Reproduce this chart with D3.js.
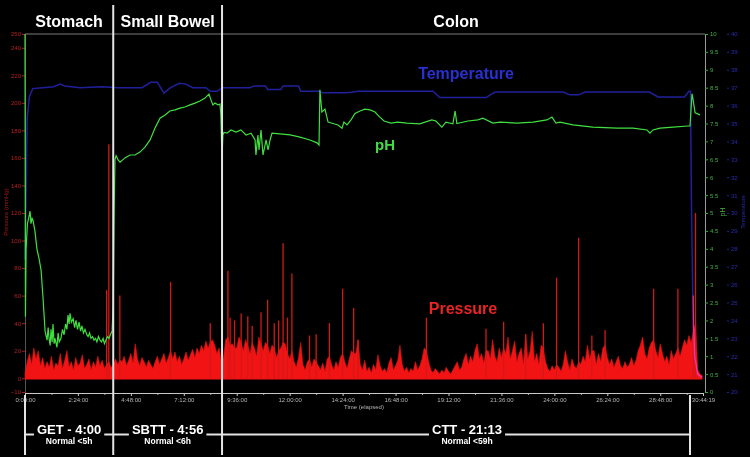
<!DOCTYPE html>
<html>
<head>
<meta charset="utf-8">
<script src="https://cdn.jsdelivr.net/npm/d3@7/dist/d3.min.js"></script>
<style>
  html, body { margin: 0; padding: 0; background: #000; }
  svg { display: block; font-family: 'Liberation Sans', Arial, sans-serif; }
</style>
</head>
<body>
<svg id="chart"></svg>
<script>
// Gut segments and transit times (hours)
const segmentNames = ['Stomach', 'Small Bowel', 'Colon'];
const transitLabels = ['GET - 4:00', 'SBTT - 4:56', 'CTT - 21:13'];
const transitNorms = ['Normal <5h', 'Normal <6h', 'Normal <59h'];
const segmentBounds = [0, 4.0, 8.933, 30.15];

// Time axis (hours)
const timeEnd = 30.7386;
const timeTicks = [0, 2.4, 4.8, 7.2, 9.6, 12, 14.4, 16.8, 19.2, 21.6, 24, 26.4, 28.8, 30.7386];
const timeTickLabels = ['0:00:00', '2:24:00', '4:48:00', '7:12:00', '9:36:00', '12:00:00',
  '14:24:00', '16:48:00', '19:12:00', '21:36:00', '24:00:00', '26:24:00', '28:48:00', '30:44:19'];
const timeMinorTicks = [1.2, 3.6, 6, 8.4, 10.8, 13.2, 15.6, 18, 20.4, 22.8, 25.2, 27.6, 30];

// Y axes tick values
const pressureTicks = [-10, 0, 20, 40, 60, 80, 100, 120, 140, 160, 180, 200, 220, 240, 250];
const phTicks = [0, 0.5, 1, 1.5, 2, 2.5, 3, 3.5, 4, 4.5, 5, 5.5, 6, 6.5, 7, 7.5, 8, 8.5, 9, 9.5, 10];
const tempTicks = [20, 21, 22, 23, 24, 25, 26, 27, 28, 29, 30, 31, 32, 33, 34, 35, 36, 37, 38, 39, 40];

// Pressure background activity (mmHg), one reading every 0.1 h
const pressureStep = 0.1;
const pressure = [
  4, 12, 18, 10, 22, 14, 20, 9, 15, 7, 12, 8, 16, 6, 11, 9, 18, 7, 13, 20,
  8, 12, 6, 15, 9, 11, 17, 7, 10, 14, 6, 12, 8, 16, 9, 13, 7, 10, 12, 8,
  9, 14, 10, 13, 12, 16, 9, 13, 18, 11, 25, 14, 9, 15, 12, 8, 13, 10, 7, 12,
  16, 10, 14, 18, 11, 15, 20, 14, 19, 12, 16, 10, 14, 19, 13, 17, 21, 15, 22, 18,
  24, 20, 27, 22, 26, 28, 24, 18, 22, 12,
  15, 28, 30, 24, 25, 22, 22, 30, 26, 20, 28, 24, 18, 26, 22, 16, 30, 25, 20, 26,
  24, 18, 24, 22, 15, 20, 22, 26, 25, 18, 14, 20, 12, 8, 15, 26, 10, 6, 12, 14,
  8, 14, 12, 9, 6, 11, 5, 14, 16, 10, 6, 12, 8, 15, 18, 12, 7, 14, 20, 18,
  18, 28, 10, 6, 13, 5, 8, 4, 10, 6, 17, 9, 5, 7, 4, 11, 15, 6, 9, 13,
  24, 10, 5, 8, 4, 7, 5, 12, 6, 9, 14, 22, 20, 12, 6, 4, 7, 5, 3, 6,
  4, 8, 5, 3, 6, 9, 12, 6, 8, 14, 18, 10, 16, 12, 20, 25, 14, 18, 11, 20,
  20, 14, 28, 16, 12, 22, 15, 22, 18, 30, 14, 20, 27, 12, 18, 22, 10, 32, 14, 20,
  34, 12, 18, 10, 24, 22, 12, 7, 5, 9, 6, 10, 8, 5, 10, 20, 12, 6, 14, 9,
  7, 12, 10, 16, 12, 24, 14, 20, 20, 10, 18, 12, 22, 24, 15, 10, 14, 8, 12, 16,
  9, 7, 12, 8, 10, 15, 9, 13, 20, 24, 30, 18, 14, 22, 26, 28, 20, 15, 25, 18,
  12, 16, 10, 20, 14, 18, 22, 16, 22, 28, 24, 31, 26, 34, 40, 6, 3, 2
];

// Pressure contraction peaks [hours, mmHg]
const pressureSpikes = [
  [3.7, 64], [3.8, 170], [4.3, 60], [6.6, 70], [8.4, 40],
  [9.2, 78], [9.3, 44], [9.5, 42], [9.8, 47], [10.1, 45], [10.3, 38], [10.7, 48],
  [11.0, 57], [11.3, 40], [11.5, 42], [11.7, 98], [11.9, 44], [12.1, 76], [12.9, 31],
  [13.2, 32], [13.8, 40], [14.4, 65], [14.9, 51], [15.1, 28], [18.2, 44], [20.9, 36],
  [21.7, 41], [22.7, 32], [23.5, 40], [24.1, 73], [25.1, 102], [25.7, 31], [26.3, 35],
  [28.5, 65], [29.6, 65], [30.3, 60], [30.4, 120]
];

// pH readings [hours, pH]
const phReadings = [
  [0, 10], [0.02, 2.1], [0.05, 4.0], [0.11, 4.7], [0.18, 4.9], [0.23, 5.05], [0.27, 4.7],
  [0.32, 4.85], [0.36, 4.8], [0.45, 4.5], [0.54, 4.0], [0.63, 3.75], [0.73, 3.4], [0.82, 2.6],
  [0.91, 1.7], [1.0, 1.45], [1.05, 1.8], [1.09, 1.5], [1.14, 1.3], [1.18, 1.75], [1.23, 1.4],
  [1.27, 1.9], [1.32, 1.35], [1.36, 1.5], [1.45, 1.25], [1.5, 1.65], [1.55, 1.4], [1.63, 1.5],
  [1.7, 1.75], [1.77, 1.6], [1.84, 1.9], [1.9, 1.75], [1.95, 2.15], [2.0, 1.9], [2.04, 2.2],
  [2.1, 1.95], [2.18, 2.05], [2.25, 1.8], [2.31, 2.0], [2.38, 1.75], [2.45, 1.95], [2.52, 1.7],
  [2.58, 1.85], [2.65, 1.65], [2.72, 1.75], [2.8, 1.6], [2.86, 1.55], [2.93, 1.65], [2.99, 1.5],
  [3.06, 1.55], [3.13, 1.45], [3.2, 1.5], [3.26, 1.4], [3.33, 1.55], [3.4, 1.45], [3.47, 1.4],
  [3.54, 1.5], [3.6, 1.35], [3.67, 1.45], [3.74, 1.55], [3.81, 1.5], [3.87, 1.6], [3.95, 1.7],
  [4.0, 2.5], [4.04, 5.0], [4.08, 6.5], [4.13, 6.6], [4.22, 6.48], [4.31, 6.42], [4.53, 6.54],
  [4.76, 6.62], [4.99, 6.62], [5.21, 6.7], [5.44, 6.84], [5.67, 7.04], [5.89, 7.37], [6.12, 7.65],
  [6.35, 7.74], [6.57, 7.85], [6.8, 7.88], [7.03, 7.93], [7.25, 7.96], [7.48, 8.02], [7.71, 8.07],
  [7.93, 8.13], [8.16, 8.21], [8.34, 8.32], [8.43, 8.16], [8.52, 8.02], [8.61, 8.07], [8.75, 8.02],
  [8.84, 8.04], [8.88, 7.74], [8.93, 6.5], [8.97, 7.18], [9.02, 7.25], [9.16, 7.23], [9.34, 7.32],
  [9.57, 7.26], [9.79, 7.32], [10.02, 7.18], [10.25, 7.23], [10.43, 7.04], [10.47, 6.62],
  [10.56, 7.18], [10.61, 6.76], [10.7, 7.32], [10.79, 6.62], [10.93, 7.04], [11.02, 6.76],
  [11.11, 7.04], [11.2, 7.23], [11.56, 7.21], [12.02, 7.18], [12.47, 7.12], [12.92, 7.04],
  [13.24, 6.96], [13.33, 6.9], [13.37, 8.44], [13.46, 7.82], [13.6, 7.9], [13.74, 7.54],
  [13.96, 7.5], [14.19, 7.46], [14.37, 7.37], [14.46, 7.54], [14.6, 7.46], [14.78, 7.6],
  [14.96, 7.78], [15.19, 7.85], [15.41, 7.9], [15.64, 7.88], [15.87, 7.82], [16.05, 7.7],
  [16.28, 7.57], [16.59, 7.51], [16.9, 7.54], [17.32, 7.51], [17.9, 7.49], [18.44, 7.6],
  [18.63, 7.57], [18.9, 7.4], [19.08, 7.54], [19.4, 7.49], [19.5, 7.85], [19.58, 7.5],
  [20.08, 7.57], [20.53, 7.6], [20.76, 7.65], [21.21, 7.51], [21.53, 7.54], [22.3, 7.51],
  [23.03, 7.54], [23.66, 7.6], [23.89, 7.68], [24.07, 7.51], [24.25, 7.54], [24.84, 7.46],
  [25.75, 7.4], [26.84, 7.37], [27.57, 7.37], [28.2, 7.32], [28.33, 7.23], [28.47, 7.32],
  [28.79, 7.37], [29.38, 7.4], [30.06, 7.43], [30.15, 7.43], [30.24, 8.33], [30.28, 8.2],
  [30.38, 7.8], [30.6, 7.74]
];

// Temperature readings [hours, degC]
const tempReadings = [
  [0, 27.4], [0.05, 31], [0.1, 35.3], [0.2, 36.5], [0.35, 36.95], [0.8, 37.0], [1.3, 37.05],
  [1.6, 37.2], [1.8, 37.1], [2.5, 37.0], [3.5, 37.05], [4.2, 37.0], [5.3, 37.0], [5.7, 37.3],
  [6.0, 37.3], [6.3, 36.7], [6.6, 37.0], [7.0, 37.25], [7.3, 37.2], [7.6, 37.0], [8.2, 37.0],
  [8.4, 36.8], [8.7, 36.8], [8.95, 37.0], [9.4, 37.0], [10.2, 37.0], [10.4, 37.1], [10.9, 37.1],
  [11.0, 36.9], [11.6, 36.9], [11.7, 37.1], [12.4, 37.1], [12.5, 36.8], [13.3, 36.8],
  [13.5, 36.72], [14.5, 36.72], [14.8, 36.75], [15.1, 36.8], [16.5, 36.8], [18.5, 36.8],
  [18.8, 36.45], [20.9, 36.45], [21.3, 36.76], [24.4, 36.76], [24.7, 36.6], [25.1, 36.6],
  [25.4, 36.76], [28.3, 36.76], [28.7, 36.48], [29.9, 36.48], [30.1, 36.8], [30.17, 36.8],
  [30.22, 30], [30.28, 25], [30.36, 22], [30.5, 21], [30.7, 20.8]
];

const width = 750,
      height = 457;

const svg = d3.select('#chart')
  .attr('width', width)
  .attr('height', height);

svg.append('rect')
  .attr('width', width)
  .attr('height', height)
  .attr('fill', '#000');

// Scales
const x = d3.scaleLinear().domain([0, timeEnd]).range([25, 703]);
const yPressure = d3.scaleLinear().domain([-10, 250]).range([392, 34]);
const yPh = d3.scaleLinear().domain([0, 10]).range([392, 34]);
const yTemp = d3.scaleLinear().domain([20, 40]).range([392, 34]);

// Top frame line
svg.append('line')
  .attr('x1', x(0)).attr('x2', 705)
  .attr('y1', 34).attr('y2', 34)
  .attr('stroke', '#7a7a7a')
  .attr('stroke-width', 1);

// Left axis - pressure
const leftAxis = svg.append('g')
  .attr('transform', `translate(${x(0)},0)`)
  .call(d3.axisLeft(yPressure).tickValues(pressureTicks).tickSize(3).tickPadding(1));
leftAxis.select('.domain').attr('stroke', '#555');
leftAxis.selectAll('.tick line').attr('stroke', '#b01c1c');
leftAxis.selectAll('.tick text')
  .attr('fill', '#b82020')
  .style('font-size', '6px');

// Right axis - pH
const phAxis = svg.append('g')
  .attr('transform', 'translate(705,0)')
  .call(d3.axisRight(yPh).tickValues(phTicks).tickSize(3).tickPadding(2).tickFormat(d => String(d)));
phAxis.select('.domain').attr('stroke', '#9a9a9a');
phAxis.selectAll('.tick line').attr('stroke', '#3aa83a');
phAxis.selectAll('.tick text')
  .attr('fill', '#43b043')
  .style('font-size', '6px');

// Right axis - temperature
const tempAxis = svg.append('g')
  .attr('transform', 'translate(727,0)')
  .call(d3.axisRight(yTemp).tickValues(tempTicks).tickSize(2).tickPadding(2));
tempAxis.select('.domain').remove();
tempAxis.selectAll('.tick line').attr('stroke', '#20208a');
tempAxis.selectAll('.tick text')
  .attr('fill', '#2a2ab0')
  .style('font-size', '6px');

// Bottom axis - elapsed time
const xMinor = svg.append('g')
  .attr('transform', 'translate(0,393)')
  .call(d3.axisBottom(x).tickValues(timeMinorTicks).tickSize(2).tickFormat(''));
xMinor.select('.domain').remove();
xMinor.selectAll('.tick line').attr('stroke', '#aaa');

const xAxis = svg.append('g')
  .attr('transform', 'translate(0,393)')
  .call(d3.axisBottom(x).tickValues(timeTicks).tickSize(3).tickPadding(2)
    .tickFormat((d, i) => timeTickLabels[i]));
xAxis.select('.domain').attr('stroke', '#c8c8c8');
xAxis.selectAll('.tick line').attr('stroke', '#c8c8c8');
xAxis.selectAll('.tick text')
  .attr('fill', '#b4b4b4')
  .style('font-size', '6px');

// Axis titles
svg.append('text')
  .attr('transform', 'translate(8,212) rotate(-90)')
  .attr('text-anchor', 'middle')
  .attr('fill', '#a01818')
  .style('font-size', '6px')
  .text('Pressure (mmHg)');

svg.append('text')
  .attr('transform', 'translate(725,212) rotate(-90)')
  .attr('text-anchor', 'middle')
  .attr('fill', '#43b043')
  .style('font-size', '7px')
  .text('pH');

svg.append('text')
  .attr('transform', 'translate(745,212) rotate(-90)')
  .attr('text-anchor', 'middle')
  .attr('fill', '#2a2ab0')
  .style('font-size', '6px')
  .text('Temperature');

svg.append('text')
  .attr('x', 364)
  .attr('y', 409)
  .attr('text-anchor', 'middle')
  .attr('fill', '#b4b4b4')
  .style('font-size', '6px')
  .text('Time (elapsed)');

// Pressure trace - background activity
const pressureArea = d3.area()
  .x((d, i) => x(i * pressureStep))
  .y0(yPressure(0) + 1)
  .y1(d => yPressure(d));

svg.append('path')
  .datum(pressure)
  .attr('d', pressureArea)
  .attr('fill', '#f21414')
  .attr('stroke', '#e01010')
  .attr('stroke-width', 0.6);

// Pressure trace - contraction peaks
svg.append('g')
  .selectAll('line')
  .data(pressureSpikes)
  .join('line')
    .attr('x1', d => x(d[0])).attr('x2', d => x(d[0]))
    .attr('y1', yPressure(0)).attr('y2', d => yPressure(d[1]))
    .attr('stroke', '#d41818')
    .attr('stroke-width', 1.3);

// Temperature trace
svg.append('path')
  .datum(tempReadings)
  .attr('d', d3.line().x(d => x(d[0])).y(d => yTemp(d[1])))
  .attr('fill', 'none')
  .attr('stroke', '#20209c')
  .attr('stroke-width', 1.5)
  .style('mix-blend-mode', 'screen');

// pH trace
svg.append('path')
  .datum(phReadings)
  .attr('d', d3.line().x(d => x(d[0])).y(d => yPh(d[1])))
  .attr('fill', 'none')
  .attr('stroke', '#3fe03f')
  .attr('stroke-width', 1.2);

// Trace labels
svg.append('text')
  .attr('x', 466).attr('y', 79)
  .attr('text-anchor', 'middle')
  .attr('fill', '#2a30d0')
  .style('font-size', '16px')
  .style('font-weight', 'bold')
  .text('Temperature');

svg.append('text')
  .attr('x', 385).attr('y', 150)
  .attr('text-anchor', 'middle')
  .attr('fill', '#44dc44')
  .style('font-size', '15px')
  .style('font-weight', 'bold')
  .text('pH');

svg.append('text')
  .attr('x', 463).attr('y', 314)
  .attr('text-anchor', 'middle')
  .attr('fill', '#e82424')
  .style('font-size', '16px')
  .style('font-weight', 'bold')
  .text('Pressure');

// Segment dividers
svg.append('g')
  .selectAll('line')
  .data(segmentBounds.slice(1, 3))
  .join('line')
    .attr('x1', d => x(d)).attr('x2', d => x(d))
    .attr('y1', 5).attr('y2', 455)
    .attr('stroke', '#e4e4e4')
    .attr('stroke-width', 2);

// Segment headers
svg.append('g')
  .selectAll('text')
  .data(segmentNames)
  .join('text')
    .attr('x', (d, i) => (x(segmentBounds[i]) + x(segmentBounds[i + 1])) / 2)
    .attr('y', 27)
    .attr('text-anchor', 'middle')
    .attr('fill', '#fff')
    .style('font-size', '16px')
    .style('font-weight', 'bold')
    .text(d => d);

// Transit time bracket
const bracket = svg.append('g');

bracket.selectAll('line.end')
  .data([segmentBounds[0], segmentBounds[3]])
  .join('line')
    .attr('class', 'end')
    .attr('x1', d => x(d)).attr('x2', d => x(d))
    .attr('y1', 395).attr('y2', 455)
    .attr('stroke', '#e4e4e4')
    .attr('stroke-width', 2);

bracket.append('line')
  .attr('x1', x(segmentBounds[0])).attr('x2', x(segmentBounds[3]))
  .attr('y1', 434.5).attr('y2', 434.5)
  .attr('stroke', '#e4e4e4')
  .attr('stroke-width', 2);

const labelShift = [0, 0, 11];
const transit = bracket.selectAll('g.transit')
  .data(transitLabels)
  .join('g')
    .attr('class', 'transit')
    .attr('transform', (d, i) =>
      `translate(${(x(segmentBounds[i]) + x(segmentBounds[i + 1])) / 2 + labelShift[i]},0)`);

transit.append('rect')
  .attr('y', 420)
  .attr('height', 18)
  .attr('fill', '#000');

transit.append('text')
  .attr('class', 'main')
  .attr('y', 433.5)
  .attr('text-anchor', 'middle')
  .attr('fill', '#fff')
  .style('font-size', '13px')
  .style('font-weight', 'bold')
  .text(d => d);

transit.append('text')
  .attr('y', 444)
  .attr('text-anchor', 'middle')
  .attr('fill', '#fff')
  .style('font-size', '8.5px')
  .style('font-weight', 'bold')
  .text((d, i) => transitNorms[i]);

transit.each(function() {
  const g = d3.select(this),
        w = g.select('text.main').node().getComputedTextLength() + 6;
  g.select('rect').attr('x', -w / 2).attr('width', w);
});
</script>
</body>
</html>
